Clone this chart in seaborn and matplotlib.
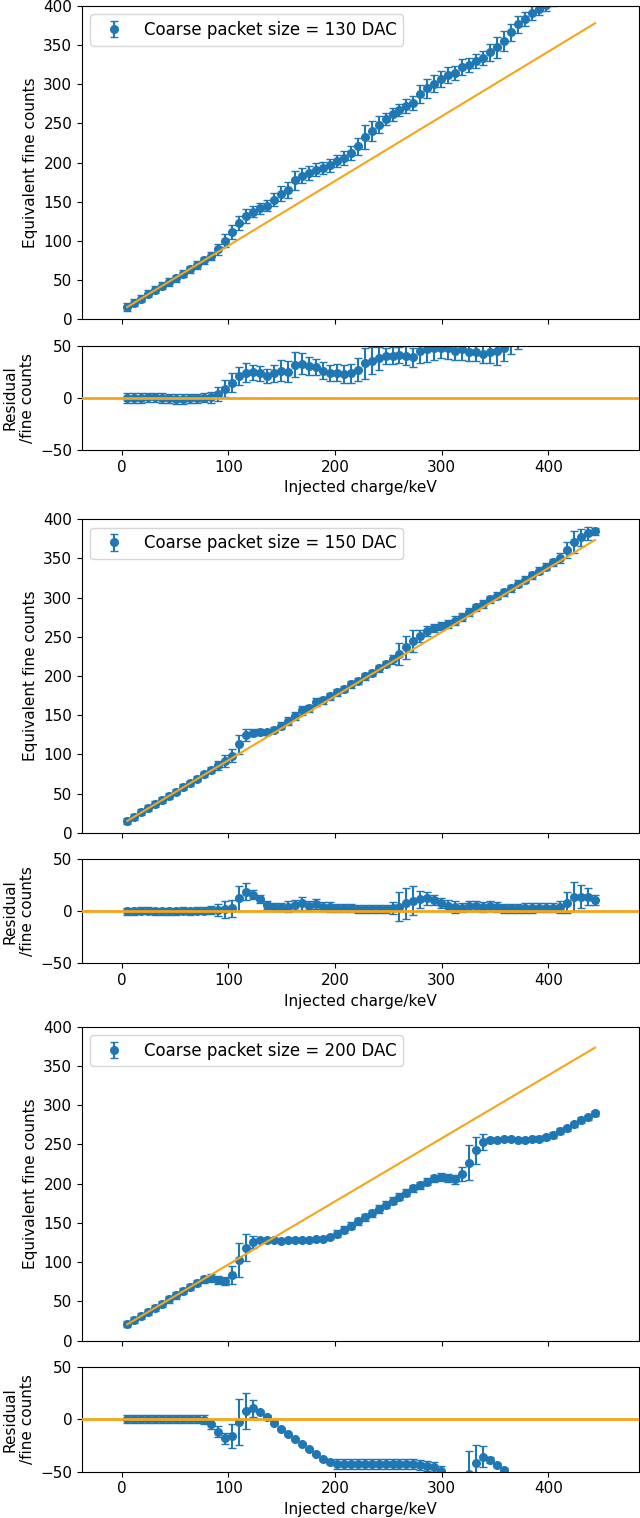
import numpy as np
import matplotlib
matplotlib.use("Agg")
import matplotlib.pyplot as plt
import seaborn as sns

# ---------------- data ----------------
injected_kev = [5.2, 11.7, 18.3, 24.8, 31.4, 37.9, 44.5, 51.0, 57.6, 64.1, 70.7, 77.2,
                83.8, 90.3, 96.8, 103.4, 109.9, 116.5, 123.0, 129.6, 136.1, 142.7, 149.2,
                155.8, 162.3, 168.9, 175.4, 181.9, 188.5, 195.0, 201.6, 208.1, 214.7, 221.2,
                227.8, 234.3, 240.9, 247.4, 254.0, 260.5, 267.0, 273.6, 280.1, 286.7, 293.2,
                299.8, 306.3, 312.9, 319.4, 326.0, 332.5, 339.1, 345.6, 352.2, 358.7, 365.2,
                371.8, 378.3, 384.9, 391.4, 398.0, 404.5, 411.1, 417.6, 424.2, 430.7, 437.3,
                443.8]

counts_130 = [15.7, 21.1, 26.5, 32.4, 37.8, 42.7, 47.6, 52.5, 58.0, 63.8, 69.3, 75.2, 81.1,
              89.5, 100.3, 111.3, 123.2, 131.6, 137.5, 141.9, 144.8, 152.7, 160.6, 165.1,
              177.4, 183.4, 186.8, 191.1, 193.1, 196.4, 201.9, 206.2, 212.2, 221.1, 232.5,
              240.4, 248.3, 255.7, 261.7, 267.5, 272.4, 276.3, 287.7, 294.7, 301.0, 307.0,
              311.8, 314.8, 321.7, 324.6, 330.0, 333.9, 340.8, 347.2, 355.6, 366.4, 376.6,
              383.4, 390.7, 395.8, 401.0, 407.0, 412.0, 417.0, 422.0, 427.0, 432.0, 437.0]
err_130 = [4.5, 4.5, 4.5, 4.5, 4.5, 4.5, 4.5, 4.5, 4.5, 4.5, 4.5, 4.5, 5, 7, 8, 9, 9, 9, 7,
           7, 7, 8, 10, 10, 12, 10, 9, 8, 8, 8, 8, 9, 9, 11, 15, 13, 11, 8, 8, 8, 9, 9, 12,
           12, 11, 10, 10, 9, 10, 9, 9, 9, 11, 13, 13, 11, 11, 9, 9, 7, 7, 7, 7, 7, 7, 7, 7,
           7]

counts_150 = [15.0, 20.3, 26.2, 31.5, 36.4, 41.7, 47.1, 52.4, 58.3, 63.1, 69.0, 74.3, 80.2,
              86.0, 91.8, 98.2, 113.0, 124.9, 127.3, 128.6, 128.0, 131.4, 136.7, 142.6,
              149.4, 156.3, 159.1, 166.4, 169.3, 174.1, 179.0, 183.8, 189.2, 194.0, 199.4,
              204.2, 209.6, 214.9, 221.3, 228.2, 236.5, 244.7, 251.2, 257.6, 261.3, 263.5,
              266.6, 270.5, 275.3, 282.2, 287.5, 291.9, 298.2, 302.6, 306.9, 312.2, 317.6,
              323.0, 328.4, 334.2, 339.6, 344.9, 350.8, 360.4, 371.5, 376.8, 382.2, 384.5]
err_150 = [3.5, 3.5, 3.5, 3.5, 3.5, 3.5, 3.5, 3.5, 3.5, 3.5, 3.5, 3.5, 4, 6, 8, 8, 12, 8,
           4.5, 3.5, 3.5, 3.5, 4, 5, 5, 6, 4.5, 5, 4.5, 4.5, 4, 4, 4, 4, 4, 4, 4, 4, 6, 14,
           15, 14, 8, 6, 5, 5, 5, 6, 4.5, 5, 5, 5, 4.5, 4.5, 4.5, 4.5, 4.5, 4.5, 4.5, 4.5,
           4.5, 4.5, 6, 10, 14, 11, 8, 4.5]

counts_200 = [20.9, 26.1, 31.4, 36.6, 41.9, 47.2, 52.5, 57.7, 63.0, 68.2, 73.5, 78.2, 79.4,
              77.4, 76.3, 83.8, 102.6, 118.4, 125.9, 128.0, 128.6, 128.2, 127.6, 127.9,
              128.0, 128.4, 128.9, 129.4, 129.9, 132.4, 136.2, 141.4, 146.7, 151.9, 157.2,
              162.4, 167.8, 173.0, 178.3, 183.5, 188.7, 194.0, 198.3, 202.6, 206.8, 208.4,
              206.9, 205.6, 212.4, 226.8, 242.5, 253.5, 255.5, 256.1, 256.5, 256.5, 256.3,
              256.3, 256.5, 257.5, 259.1, 262.0, 267.2, 270.6, 275.7, 281.0, 284.4, 289.7]
err_200 = [4, 4, 4, 4, 4, 4, 4, 4, 4, 4, 4, 4.5, 5, 5, 5, 11, 22, 17, 8,
           1, 1, 1, 1, 1, 1, 1, 1, 1, 1, 2, 4.5, 4.5, 4.5, 4.5, 4.5, 4.5, 4.5, 4.5, 4.5,
           4.5, 4.5, 4.5, 4.5, 4.5, 4.5, 5, 5, 6, 9, 22, 17, 10, 3, 1.5, 1.5, 1.5, 1.5, 1.5,
           1.5, 3.5, 3.5, 3.5, 3.5, 3.5, 3.5, 3.5, 3.5, 3.5]

packet_sizes = [130, 150, 200]
fit_slope = [0.8258, 0.8175, 0.8035]
fit_intercept = [11.4, 10.7, 16.7]

main_yticks = [0, 50, 100, 150, 200, 250, 300, 350, 400]
resid_yticks = [-50, 0, 50]
x_ticks = [0, 100, 200, 300, 400]

# ---------------- style ----------------
plt.rcParams.update({
    "font.family": ["DejaVu Sans"],
    "font.size": 11,
    "xtick.labelsize": 11,
    "ytick.labelsize": 11,
    "axes.labelsize": 11,
    "axes.linewidth": 0.8,
})

BLUE = "#1f77b4"
ORANGE = "#f5a518"

W, H = 640, 1518
fig = plt.figure(figsize=(W / 100, H / 100), dpi=100)

main_boxes = [(6, 319.3), (519.3, 832.7), (1026.7, 1340.7)]
resid_boxes = [(345.7, 450.0), (859.3, 963.3), (1366.7, 1471.7)]
left_px, right_px = 82, 638.5


def add_ax(top, bottom):
    return fig.add_axes([left_px / W, 1 - bottom / H, (right_px - left_px) / W,
                         (bottom - top) / H])


x = np.array(injected_kev)
datasets = [(counts_130, err_130), (counts_150, err_150), (counts_200, err_200)]
xlim = (-37.2, 484.6)

for i, (counts, errs) in enumerate(datasets):
    y = np.array(counts)
    e = np.array(errs)
    fit = fit_intercept[i] + fit_slope[i] * x
    resid = y - fit

    ax = add_ax(*main_boxes[i])
    ax.errorbar(x, y, yerr=e, fmt="o", color=BLUE, ms=5.5, capsize=3, elinewidth=1.5,
                label=f"Coarse packet size = {packet_sizes[i]} DAC", zorder=2)
    sns.lineplot(x=x, y=fit, ax=ax, color=ORANGE, lw=1.5, zorder=3, legend=False)
    ax.set_xlim(*xlim)
    ax.set_ylim(0, 400)
    ax.set_yticks(main_yticks)
    ax.set_xticks(x_ticks)
    ax.set_xticklabels([])
    ax.set_ylabel("Equivalent fine counts")
    ax.set_xlabel("")
    ax.legend(loc="upper left", fontsize=12)

    rx = add_ax(*resid_boxes[i])
    rx.errorbar(x, resid, yerr=e, fmt="o", color=BLUE, ms=5.5, capsize=3, elinewidth=1.5,
                zorder=2)
    rx.axhline(0, color=ORANGE, lw=2, zorder=3)
    rx.set_xlim(*xlim)
    rx.set_ylim(-50, 50)
    rx.set_yticks(resid_yticks)
    rx.set_xticks(x_ticks)
    rx.set_ylabel("Residual\n/fine counts")
    rx.set_xlabel("Injected charge/keV")

fig.savefig("out.png", dpi=100)
